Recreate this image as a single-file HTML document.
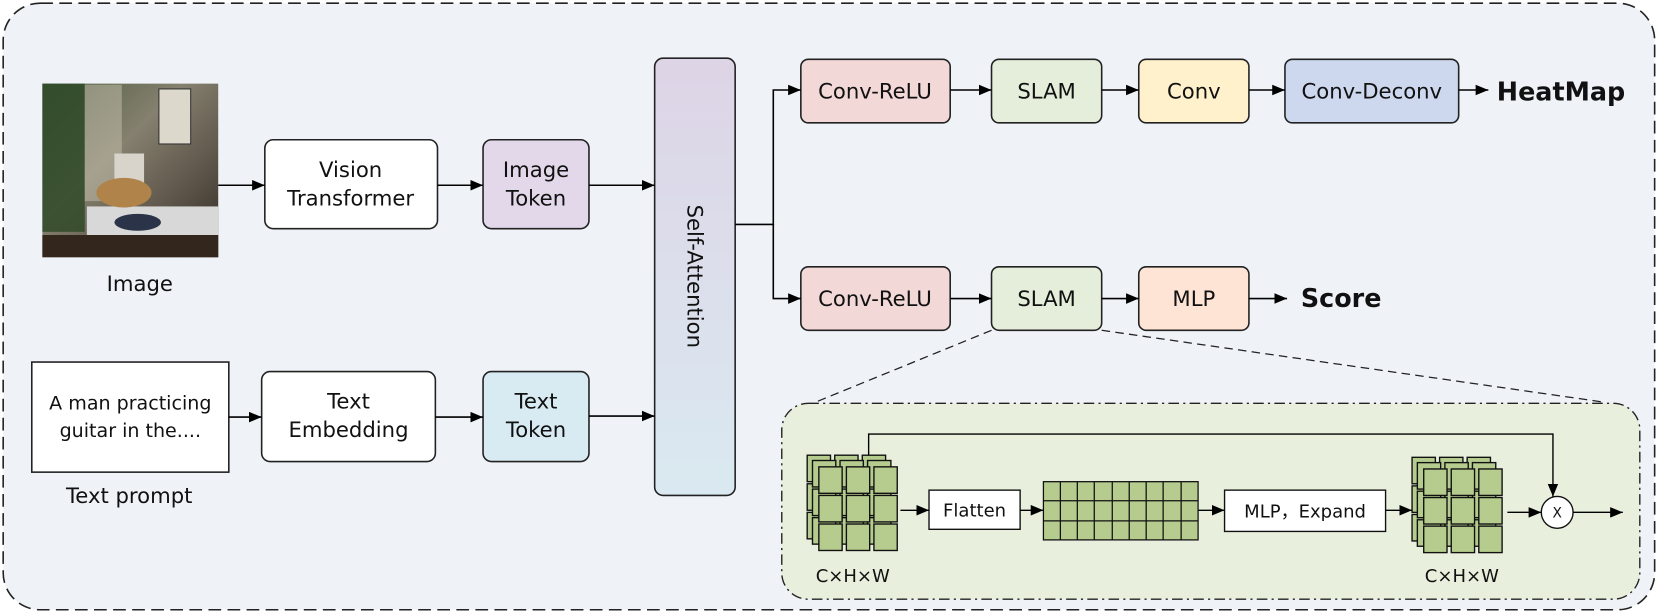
<!DOCTYPE html>
<html><head><meta charset="utf-8"><style>
html,body{margin:0;padding:0;background:#fff;}
svg{display:block;}
text{font-family:"DejaVu Sans","Liberation Sans",sans-serif;fill:#111;}
</style></head><body>
<svg width="1661" height="614" viewBox="0 0 1568 580" preserveAspectRatio="none" xmlns="http://www.w3.org/2000/svg">
<defs>
<marker id="ar" markerWidth="12" markerHeight="10" refX="12" refY="5" orient="auto" markerUnits="userSpaceOnUse"><path d="M0,0 L12,5 L0,10 z" fill="#000"/></marker>
<linearGradient id="sa" x1="0" y1="0" x2="0" y2="1"><stop offset="0" stop-color="#ddd4e6"/><stop offset="1" stop-color="#dae9f1"/></linearGradient>
<linearGradient id="ph" x1="0" y1="0" x2="1" y2="1"><stop offset="0" stop-color="#4a5a3e"/><stop offset="0.4" stop-color="#85806f"/><stop offset="0.7" stop-color="#5e564a"/><stop offset="1" stop-color="#2f2a25"/></linearGradient>
<g id="cell"><rect width="22" height="25" fill="#b5cc8e" stroke="#111" stroke-width="1.3"/></g>
<g id="grid3">
<use href="#cell" x="0" y="0"/><use href="#cell" x="26" y="0"/><use href="#cell" x="52" y="0"/>
<use href="#cell" x="0" y="27"/><use href="#cell" x="26" y="27"/><use href="#cell" x="52" y="27"/>
<use href="#cell" x="0" y="54"/><use href="#cell" x="26" y="54"/><use href="#cell" x="52" y="54"/>
</g>
<g id="cube"><use href="#grid3" x="0" y="0"/><use href="#grid3" x="5" y="5"/><use href="#grid3" x="11" y="11"/></g>
</defs>
<rect x="3" y="3" width="1559" height="573" rx="35" fill="#eff3f8" stroke="#222" stroke-width="1.5" stroke-dasharray="12,6"/>

<!-- photo -->
<rect x="40" y="79" width="166" height="164" fill="url(#ph)"/>
<rect x="40" y="79" width="40" height="140" fill="#2f4a28" opacity="0.85"/>
<rect x="80" y="80" width="35" height="110" fill="#c8c2b0" opacity="0.5"/>
<rect x="150" y="84" width="30" height="52" fill="#ddd8cc" stroke="#333"/>
<rect x="82" y="195" width="124" height="27" fill="#d8d8d8"/>
<rect x="108" y="145" width="28" height="32" fill="#d8d4cc"/>
<ellipse cx="117" cy="182" rx="26" ry="14" fill="#b0834a"/>
<ellipse cx="130" cy="210" rx="22" ry="8" fill="#2a3348"/>
<rect x="40" y="222" width="166" height="21" fill="#33261c"/>
<text x="132" y="275" font-size="20" text-anchor="middle">Image</text>

<g stroke="#222" stroke-width="1.5">
<rect x="250" y="132" width="163" height="84" rx="8" fill="#fff"/>
<rect x="456" y="132" width="100" height="84" rx="8" fill="#e2d8e9"/>
<rect x="618" y="55" width="76" height="413" rx="8" fill="url(#sa)"/>
<rect x="30" y="342" width="186" height="104" fill="#fff"/>
<rect x="247" y="351" width="164" height="85" rx="8" fill="#fff"/>
<rect x="456" y="351" width="100" height="85" rx="8" fill="#d9ebf2"/>
<rect x="756" y="56" width="141" height="60" rx="7" fill="#f2d8d7"/>
<rect x="936" y="56" width="104" height="60" rx="7" fill="#e5eedb"/>
<rect x="1075" y="56" width="104" height="60" rx="7" fill="#fff1cb"/>
<rect x="1213" y="56" width="164" height="60" rx="7" fill="#cdd8ee"/>
<rect x="756" y="252" width="141" height="60" rx="7" fill="#f2d8d7"/>
<rect x="936" y="252" width="104" height="60" rx="7" fill="#e5eedb"/>
<rect x="1075" y="252" width="104" height="60" rx="7" fill="#fde4d5"/>
</g>
<g font-size="20" text-anchor="middle">
<text x="331" y="167">Vision</text><text x="331" y="194">Transformer</text>
<text x="506" y="167">Image</text><text x="506" y="194">Token</text>
<text x="123" y="387" font-size="18">A man practicing</text><text x="123" y="413" font-size="18">guitar in the....</text>
<text x="122" y="475">Text prompt</text>
<text x="329" y="386">Text</text><text x="329" y="413">Embedding</text>
<text x="506" y="386">Text</text><text x="506" y="413">Token</text>
<text transform="translate(649,261) rotate(90)" >Self-Attention</text>
<text x="826" y="93">Conv-ReLU</text><text x="988" y="93">SLAM</text><text x="1127" y="93">Conv</text><text x="1295" y="93">Conv-Deconv</text>
<text x="826" y="289">Conv-ReLU</text><text x="988" y="289">SLAM</text><text x="1127" y="289">MLP</text>
</g>
<text x="1413" y="95" font-size="24" font-weight="bold" font-family="Liberation Sans">HeatMap</text>
<text x="1228" y="290" font-size="24" font-weight="bold" font-family="Liberation Sans">Score</text>

<g stroke="#000" stroke-width="1.5" fill="none" marker-end="url(#ar)">
<line x1="206" y1="175" x2="250" y2="175"/>
<line x1="413" y1="175" x2="456" y2="175"/>
<line x1="556" y1="175" x2="618" y2="175"/>
<line x1="216" y1="394" x2="247" y2="394"/>
<line x1="411" y1="394" x2="456" y2="394"/>
<line x1="556" y1="393" x2="618" y2="393"/>
<polyline points="694,212 730,212 730,85 756,85"/>
<polyline points="730,212 730,282 756,282"/>
<line x1="897" y1="85" x2="936" y2="85"/>
<line x1="1040" y1="85" x2="1075" y2="85"/>
<line x1="1179" y1="85" x2="1213" y2="85"/>
<line x1="1377" y1="85" x2="1405" y2="85"/>
<line x1="897" y1="282" x2="936" y2="282"/>
<line x1="1040" y1="282" x2="1075" y2="282"/>
<line x1="1179" y1="282" x2="1215" y2="282"/>
</g>
<g stroke="#222" stroke-width="1.2" stroke-dasharray="8,5" fill="none">
<line x1="936" y1="312" x2="750" y2="388"/>
<line x1="1040" y1="312" x2="1515" y2="380"/>
</g>
<rect x="738" y="381" width="810" height="185" rx="25" fill="#e8efdc" stroke="#222" stroke-width="1.3" stroke-dasharray="10,4,2,4"/>

<use href="#cube" x="762" y="430"/>
<use href="#cube" x="1333" y="432"/>
<rect x="877" y="463" width="86" height="37" fill="#fff" stroke="#111" stroke-width="1.3"/>
<text x="920" y="488" font-size="17" text-anchor="middle">Flatten</text>
<rect x="985" y="455" width="146" height="55" stroke="#111" stroke-width="1.2" fill="#b5cc8e"/>
<g stroke="#111" stroke-width="1.2">
<line x1="1001" y1="455" x2="1001" y2="510"/><line x1="1017" y1="455" x2="1017" y2="510"/><line x1="1033" y1="455" x2="1033" y2="510"/><line x1="1050" y1="455" x2="1050" y2="510"/><line x1="1066" y1="455" x2="1066" y2="510"/><line x1="1082" y1="455" x2="1082" y2="510"/><line x1="1098" y1="455" x2="1098" y2="510"/><line x1="1115" y1="455" x2="1115" y2="510"/>
<line x1="985" y1="473" x2="1131" y2="473"/><line x1="985" y1="492" x2="1131" y2="492"/>
</g>
<rect x="1156" y="463" width="152" height="39" fill="#fff" stroke="#111" stroke-width="1.3"/>
<text x="1232" y="489" font-size="17" text-anchor="middle">MLP，Expand</text>
<circle cx="1470" cy="484" r="15" fill="#fff" stroke="#111" stroke-width="1.3"/>
<text x="1470" y="489" font-size="13" text-anchor="middle">X</text>
<g stroke="#000" stroke-width="1.3" fill="none" marker-end="url(#ar)">
<line x1="850" y1="482" x2="877" y2="482"/>
<line x1="963" y1="482" x2="985" y2="482"/>
<line x1="1131" y1="482" x2="1156" y2="482"/>
<line x1="1308" y1="482" x2="1333" y2="482"/>
<line x1="1423" y1="484" x2="1455" y2="484"/>
<line x1="1485" y1="484" x2="1532" y2="484"/>
<polyline points="820,430 820,410 1466,410 1466,469"/>
</g>
<text x="805" y="550" font-size="17" text-anchor="middle">C×H×W</text>
<text x="1380" y="550" font-size="17" text-anchor="middle">C×H×W</text>
</svg>
</body></html>
